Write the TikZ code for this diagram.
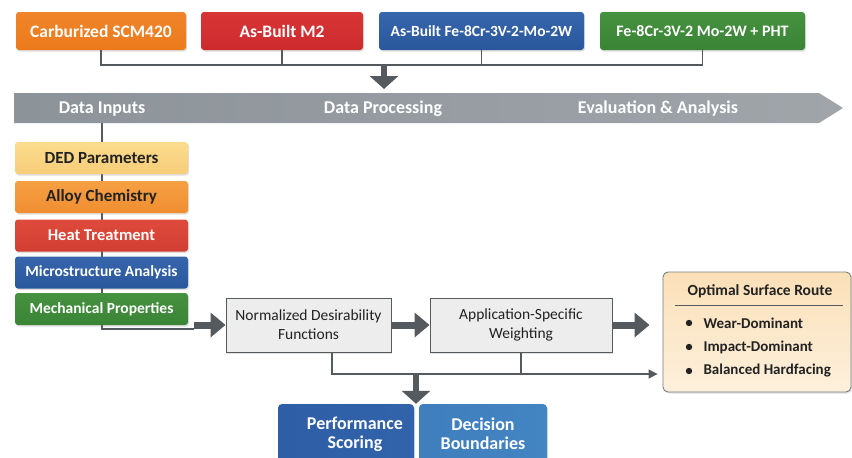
\documentclass[tikz,border=0pt]{standalone}
\usepackage{fontspec}
\setmainfont{Carlito}
\usetikzlibrary{arrows.meta,shadows,calc}
\definecolor{cOrange}{HTML}{F0842A}
\definecolor{cOrangeD}{HTML}{EC7A1C}
\definecolor{cRed}{HTML}{D83535}
\definecolor{cRedD}{HTML}{CC2B2E}
\definecolor{cBlue}{HTML}{3766AC}
\definecolor{cBlueD}{HTML}{2A579C}
\definecolor{cGreen}{HTML}{45923F}
\definecolor{cGreenD}{HTML}{3A8436}
\definecolor{cYel}{HTML}{FBDC8E}
\definecolor{cYelD}{HTML}{F7CD78}
\definecolor{cAlloy}{HTML}{F5A044}
\definecolor{cAlloyD}{HTML}{F08E30}
\definecolor{cHeat}{HTML}{DE4B3B}
\definecolor{cHeatD}{HTML}{D23D32}
\definecolor{cGray}{HTML}{8C9399}
\definecolor{cGrayL}{HTML}{A0A5AA}
\definecolor{cLine}{HTML}{555A5F}
\definecolor{cBox}{HTML}{EDEDED}
\definecolor{cPeach}{HTML}{FBE0B8}
\definecolor{cPeachL}{HTML}{FDF0DC}
\definecolor{cTxt}{HTML}{222222}
\definecolor{cPerf}{HTML}{2E5EA6}
\definecolor{cDec}{HTML}{4384C2}
\tikzset{
  shad/.style={drop shadow={opacity=0.25,shadow xshift=1pt,shadow yshift=-1.5pt}},
  colbox/.style={rounded corners=3pt, shad, text=white, font=\bfseries, inner sep=2pt},
  stackbox/.style={colbox, minimum width=173, minimum height=32},
  procbox/.style={draw=cLine, line width=0.9pt, fill=cBox, shad, align=center, text=cTxt,
     font=\fontsize{15.5}{19}\selectfont, minimum height=54},
  conn/.style={draw=cLine, line width=1.3pt},
  fat/.style={draw=cLine, line width=7pt, -{Triangle[width=24pt,length=15pt]}},
  fatdown/.style={draw=cLine, line width=6pt, -{Triangle[width=28pt,length=13pt]}},
  bannertxt/.style={text=white, font=\fontsize{18}{20}\selectfont\bfseries},
  bul/.style={anchor=west, text=cTxt, font=\fontsize{15}{17}\selectfont\bfseries},
}
\begin{document}
\begin{tikzpicture}[x=1pt,y=-1pt]
\useasboundingbox (0,0) rectangle (852,458);
\clip (0,0) rectangle (852,458);
\fill[white] (0,0) rectangle (852,458);

% top boxes
\node[colbox, top color=cOrange, bottom color=cOrangeD, minimum width=170, minimum height=38,
  font=\fontsize{17.5}{20}\selectfont\bfseries] (carb) at (101,31) {Carburized SCM420};
\node[colbox, top color=cRed, bottom color=cRedD, minimum width=162, minimum height=38,
  font=\fontsize{17.5}{20}\selectfont\bfseries] (m2) at (282,31) {As-Built M2};
\node[colbox, top color=cBlue, bottom color=cBlueD, minimum width=205, minimum height=38,
  font=\fontsize{15.5}{20}\selectfont\bfseries] (fe) at (481.5,31) {As-Built Fe-8Cr-3V-2-Mo-2W};
\node[colbox, top color=cGreen, bottom color=cGreenD, minimum width=205, minimum height=38,
  font=\fontsize{16}{20}\selectfont\bfseries] (pht) at (702.5,31) {Fe-8Cr-3V-2 Mo-2W + PHT};

\coordinate (bus) at (384,65);
\draw[conn] (carb.south) -- (carb.south |- bus) -- (pht.south |- bus) -- (pht.south);
\draw[conn] (m2.south) -- (m2.south |- bus);
\draw[conn] (fe.south) -- (fe.south |- bus);

% banner
\shade[left color=cGray, right color=cGrayL] (14,93) -- (819,93) -- (843,108) -- (819,123) -- (14,123) -- cycle;
\coordinate (bannertop) at (384,89);
\coordinate (bannerbot) at (102,123);
\draw[fatdown] (bus) -- (bannertop);
\node[bannertxt] (t1) at (102,109) {Data Inputs};
\node[bannertxt] (t2) at (383,109) {Data Processing};
\node[bannertxt] (t3) at (658,109) {Evaluation \& Analysis};

% spine line behind stack
\coordinate (elbow) at (102,329);
\coordinate (fatstart) at (194,325);
\draw[conn] (bannerbot) -- (elbow) -- (fatstart |- elbow);

% stack
\node[stackbox, top color=cYel, bottom color=cYelD, text=cTxt, font=\fontsize{17}{19}\selectfont\bfseries] (ded) at (101.5,158) {DED Parameters};
\node[stackbox, top color=cAlloy, bottom color=cAlloyD, text=cTxt, font=\fontsize{17}{19}\selectfont\bfseries] (alloy) at (101.5,197) {Alloy Chemistry};
\node[stackbox, top color=cHeat, bottom color=cHeatD, font=\fontsize{16.5}{19}\selectfont\bfseries] (heat) at (101.5,235.5) {Heat Treatment};
\node[stackbox, top color=cBlue, bottom color=cBlueD, font=\fontsize{15.5}{19}\selectfont\bfseries] (micro) at (101.5,272.5) {Microstructure Analysis};
\node[stackbox, top color=cGreen, bottom color=cGreenD, font=\fontsize{15.5}{19}\selectfont\bfseries] (mech) at (101.5,309) {Mechanical Properties};

% process boxes
\node[procbox, minimum width=165] (norm) at (308.5,325) {Normalized Desirability\\Functions};
\node[procbox, minimum width=182] (app) at (521,325) {Application-Specific\\Weighting};

% optimal box
\node[draw=cLine!80, line width=0.9pt, rounded corners=5pt, top color=cPeach, bottom color=cPeachL,
  shad, minimum width=188, minimum height=120] (opt) at (757,332) {};
\node[text=cTxt, font=\fontsize{15.5}{18}\selectfont\bfseries] (optt) at (760,291) {Optimal Surface Route};
\coordinate (sepL) at (675,305);
\coordinate (sepR) at (843,305);
\draw[cLine, line width=1pt] (sepL) -- (sepR);
\foreach \i/\yy/\t in {b1/323/Wear-Dominant, b2/347/Impact-Dominant, b3/371/Balanced Hardfacing}{
  \fill[cTxt] (689,\yy) circle (3.2);
  \node[bul] (\i) at (700,\yy) {\t};
}

% arrows between
\draw[fat] (fatstart) -- (norm.west);
\draw[fat] (norm.east) -- (app.west);
\draw[fat, shorten >=13pt] (app.east) -- (opt.west |- app.east);

% lower connectors
\coordinate (j1) at (332,374);
\coordinate (j2) at (416,374);
\draw[conn, -{Triangle[width=9pt,length=9pt]}, shorten >=5pt] (norm.south -| j1) -- (j1) -- (opt.west |- j1);
\draw[conn] (app.south) -- (app.south |- j1);

% bottom boxes
\node[colbox, rounded corners=4pt, left color=cPerf, right color=cPerf!85!cDec, minimum width=136, minimum height=60,
  font=\fontsize{18}{19}\selectfont\bfseries, align=center] (perf) at (346,434) {\hspace*{18pt}Performance\\\hspace*{18pt}Scoring};
\node[colbox, rounded corners=4pt, left color=cDec!85!cPerf, right color=cDec, minimum width=128, minimum height=60,
  font=\fontsize{18}{19}\selectfont\bfseries, align=center] (dec) at (483,434) {Decision\\Boundaries};
\draw[fatdown] (j2) -- (j2 |- perf.north);
\end{tikzpicture}
\end{document}
